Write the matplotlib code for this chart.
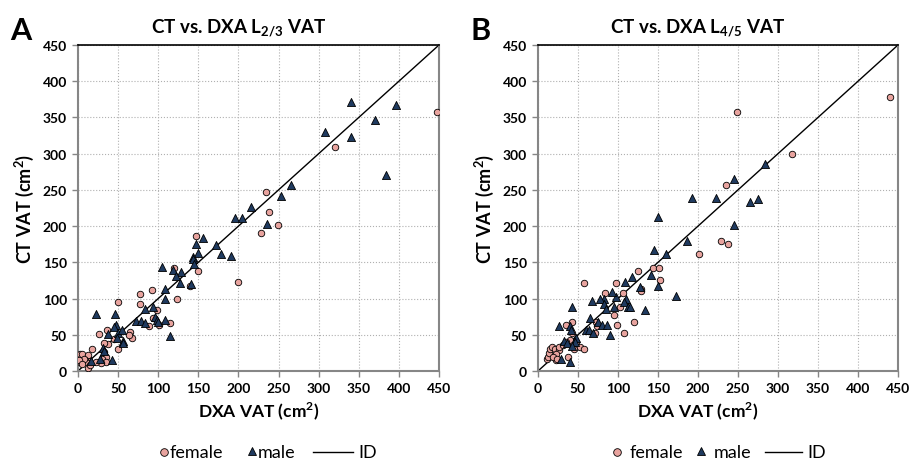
import matplotlib
matplotlib.use("Agg")
import matplotlib.pyplot as plt
from matplotlib.lines import Line2D

plt.rcParams['font.family'] = ['Lato', 'DejaVu Sans']

# panel A: CT vs DXA L2/3
a_female_x = [448, 320, 234, 238, 249, 228, 147, 149, 199, 120, 140, 92, 77, 123, 77, 50, 99, 93, 88, 101,
              115, 65, 67, 63, 26, 36, 45, 38, 33, 50, 17, 32, 35, 30, 35, 29, 22, 14, 0.5, 2,
              5, 12, 3, 9, 13, 12, 15, 7, 1, 5]
a_female_y = [357, 309, 247, 220, 201, 190, 186, 138, 123, 142, 117, 112, 106, 99, 93, 95, 84, 73, 62, 64,
              66, 54, 46, 50, 51, 57, 44, 37, 39, 31, 31, 26, 19, 16, 12, 11, 12, 14, 19, 24,
              24, 22, 12, 15, 11, 4, 8, 17, 15, 10]
a_male_x = [340, 397, 370, 308, 340, 384, 265, 253, 216, 196, 204, 236, 156, 147, 172, 150, 178, 191, 143, 143,
            145, 105, 118, 128, 122, 127, 141, 108, 109, 83, 94, 96, 98, 100, 109, 72, 79, 84, 23, 46,
            47, 45, 38, 50, 55, 48, 56, 56, 31, 33, 115, 43, 28, 16]
a_male_y = [371, 367, 346, 330, 323, 271, 257, 242, 226, 211, 211, 203, 183, 175, 174, 163, 162, 159, 157, 154,
            148, 143, 139, 137, 131, 122, 120, 113, 99, 85, 89, 74, 71, 67, 70, 69, 69, 66, 79, 79,
            64, 61, 51, 53, 56, 45, 42, 39, 32, 27, 48, 15, 16, 14]

# panel B: CT vs DXA L4/5
b_female_x = [440, 249, 317, 235, 229, 238, 201, 125, 144, 151, 153, 129, 129, 58, 98, 106, 84, 102, 95, 99,
              120, 108, 73, 74, 71, 43, 43, 35, 40, 44, 45, 53, 57, 38, 11, 12, 14, 15, 18, 21,
              26, 26, 22, 23, 19, 24, 31, 35, 48]
b_female_y = [378, 358, 300, 257, 179, 175, 162, 138, 142, 142, 126, 113, 110, 122, 121, 107, 107, 88, 77, 64,
              68, 52, 68, 62, 53, 67, 52, 64, 43, 36, 31, 33, 30, 19, 16, 19, 25, 31, 33, 30,
              29, 33, 15, 24, 19, 17, 36, 40, 40]
b_male_x = [284, 245, 193, 223, 265, 275, 245, 150, 186, 145, 160, 141, 150, 128, 173, 118, 109, 110, 107, 113,
            115, 97, 93, 83, 78, 83, 85, 68, 95, 134, 65, 60, 64, 69, 75, 80, 86, 90, 43, 26,
            40, 41, 32, 36, 48, 46, 43, 29, 40]
b_male_y = [286, 265, 239, 239, 233, 238, 202, 213, 179, 167, 162, 132, 117, 116, 104, 130, 123, 100, 95, 88,
            89, 102, 109, 100, 100, 93, 86, 96, 88, 84, 73, 56, 57, 52, 68, 64, 64, 50, 88, 62,
            62, 56, 41, 38, 46, 40, 35, 17, 13]

ticks = list(range(0, 451, 50))
female_col = '#E8A39E'
male_col = '#1F3A5F'
gray = '#868686'

W, H = 912, 460


def draw_panel(ax, fx, fy, mx, my, sub, letter, shift):
    ax.set_xlim(0, 450)
    ax.set_ylim(0, 450)
    ax.set_xticks(ticks)
    ax.set_yticks(ticks)
    ax.grid(True, linestyle=':', color='#B0B0B0', linewidth=0.8)
    ax.set_axisbelow(True)
    ax.plot([0, 450], [0, 450], color='black', lw=1, zorder=2)
    ax.scatter(fx, fy, s=22, marker='o', facecolor=female_col, edgecolor='black', linewidth=0.6, zorder=3)
    ax.scatter(mx, my, s=34, marker='^', facecolor=male_col, edgecolor='black', linewidth=0.6, zorder=3)
    for s in ['left', 'bottom', 'right']:
        ax.spines[s].set_color(gray)
        ax.spines[s].set_linewidth(1.5)
    ax.spines['top'].set_color('black')
    ax.spines['top'].set_linewidth(1.2)
    ax.tick_params(direction='out', length=4, width=1, color=gray, labelsize=10, pad=4)
    for lab in ax.get_xticklabels() + ax.get_yticklabels():
        lab.set_fontweight('bold')
    ax.set_xlabel('DXA VAT (cm$^\\mathregular{2}$)', fontsize=12.5, fontweight='bold', labelpad=4)
    ax.set_ylabel('CT VAT (cm$^\\mathregular{2}$)', fontsize=13, fontweight='bold', labelpad=5)
    ax.xaxis.set_label_coords(0.5 - shift, -0.085)
    ax.text(0.5 - 20 / 361, 1 + 13 / 326, 'CT vs. DXA L$_\\mathregular{' + sub + '}$ VAT',
            transform=ax.transAxes, ha='center', va='baseline', fontsize=13.5, fontweight='bold')
    ax.text(-68 / 361, 1 + 6 / 326, letter, transform=ax.transAxes, ha='left', va='baseline',
            fontsize=22, fontweight='bold')


def draw_legend(fig, x_circle, x_tri, x_line0, x_line1, gap):
    y = 1 - 453 / H
    fig.add_artist(Line2D([x_circle / W], [y], ls='none', marker='o', markersize=5.5,
                          markerfacecolor=female_col, markeredgecolor='black', markeredgewidth=0.6))
    fig.text((x_circle + gap) / W, y, 'female', fontsize=13, va='center', ha='left')
    fig.add_artist(Line2D([x_tri / W], [y + 1 / H], ls='none', marker='^', markersize=6,
                          markerfacecolor=male_col, markeredgecolor='black', markeredgewidth=0.6))
    fig.text((x_tri + gap) / W, y, 'male', fontsize=13, va='center', ha='left')
    fig.add_artist(Line2D([x_line0 / W, x_line1 / W], [y, y], color='black', lw=1))
    fig.text((x_line1 + 5) / W, y, 'ID', fontsize=13, va='center', ha='left')


fig = plt.figure(figsize=(9.12, 4.6), dpi=100)
axA = fig.add_axes([78 / W, 88 / H, 361 / W, 326 / H])
axB = fig.add_axes([538 / W, 88 / H, 360 / W, 326 / H])
draw_panel(axA, a_female_x, a_female_y, a_male_x, a_male_y, '2/3', 'A', 0)
draw_panel(axB, b_female_x, b_female_y, b_male_x, b_male_y, '4/5', 'B', 20 / 360)

draw_legend(fig, 164, 252, 313, 353, 6)
draw_legend(fig, 617, 701, 765, 802, 13)

fig.savefig('out.png', dpi=100)
